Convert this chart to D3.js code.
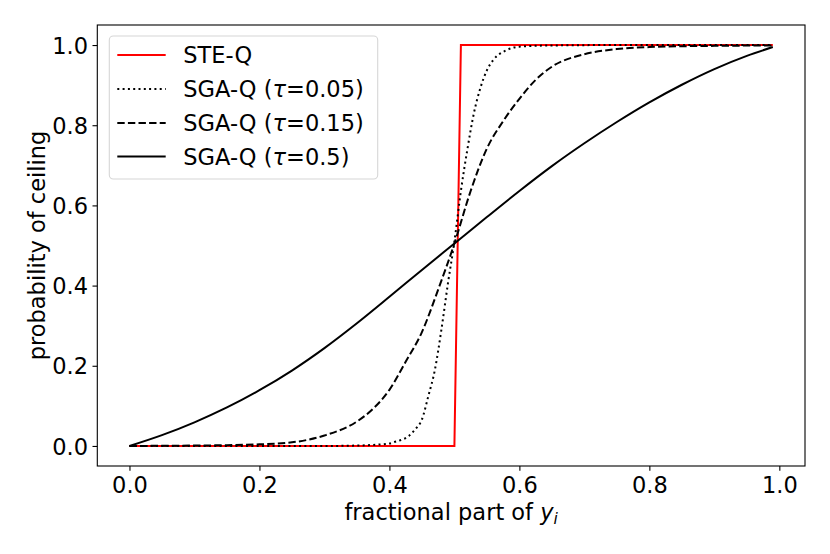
<!DOCTYPE html>
<html>
<head>
<meta charset="utf-8">
<script src="https://cdn.jsdelivr.net/npm/d3@7"></script>
<style>
  body { margin: 0; background: #fff; }
  text { font-family: "DejaVu Sans", sans-serif; fill: #000; }
</style>
</head>
<body>
<div class="chart"></div>
<script>
//-----------------------------------------
// data
//-----------------------------------------

// STE-Q: hard step
var steX = [0, 0.50, 0.51, 0.99];
var steY = [0, 0, 1, 1];

// SGA-Q (tau=0.05), dotted
var sga005X = [0, 0.30, 0.35, 0.40, 0.41, 0.42, 0.43, 0.44, 0.45, 0.46, 0.47, 0.48, 0.49, 0.50,
               0.51, 0.52, 0.53, 0.54, 0.55, 0.56, 0.58, 0.60, 0.65, 0.75, 0.99];
var sga005Y = [0, 0, 0.001, 0.006, 0.011, 0.016, 0.025, 0.042, 0.066, 0.125, 0.19, 0.29, 0.405, 0.51,
               0.636, 0.74, 0.83, 0.893, 0.937, 0.963, 0.987, 0.996, 0.999, 1, 1];

// SGA-Q (tau=0.15), dashed
var sga015X = [0, 0.10, 0.15, 0.20, 0.25, 0.30, 0.35, 0.375, 0.40, 0.425, 0.45, 0.475, 0.50,
               0.525, 0.55, 0.575, 0.60, 0.625, 0.65, 0.70, 0.75, 0.80, 0.85, 0.90, 0.99];
var sga015Y = [0, 0.001, 0.002, 0.004, 0.009, 0.026, 0.061, 0.093, 0.14, 0.21, 0.284, 0.39, 0.505,
               0.636, 0.742, 0.81, 0.866, 0.913, 0.946, 0.977, 0.99, 0.995, 0.997, 0.998, 0.999];

// SGA-Q (tau=0.5), solid
var sga05X = [0, 0.05, 0.10, 0.15, 0.20, 0.25, 0.30, 0.35, 0.40, 0.45, 0.50,
              0.55, 0.60, 0.65, 0.70, 0.75, 0.80, 0.85, 0.90, 0.95, 0.99];
var sga05Y = [0, 0.027, 0.059, 0.096, 0.139, 0.188, 0.244, 0.306, 0.372, 0.439, 0.505,
              0.571, 0.636, 0.698, 0.755, 0.808, 0.857, 0.901, 0.940, 0.973, 0.995];

var tickValues = [0, 0.2, 0.4, 0.6, 0.8, 1.0];
var legendNames = ["STE-Q", "SGA-Q (", "SGA-Q (", "SGA-Q ("];
var legendTaus = [null, "0.05", "0.15", "0.5"];

//-----------------------------------------
// svg + scales
//-----------------------------------------
var svgWidth = 830;
var svgHeight = 554;
var fontSize = 22.5;

var plot = { left: 97.3, right: 805, top: 25, bottom: 466 };

var svg = d3.select(".chart")
    .append("svg")
    .attr("width", svgWidth)
    .attr("height", svgHeight);

var xScale = d3.scaleLinear()
    .domain([-0.0495, 1.0395])
    .range([plot.left, plot.right]);

var yScale = d3.scaleLinear()
    .domain([-0.05, 1.05])
    .range([plot.bottom, plot.top]);

//-----------------------------------------
// axes
//-----------------------------------------
var xAxis = d3.axisBottom(xScale)
    .tickValues(tickValues)
    .tickFormat(d3.format(".1f"))
    .tickSizeInner(4.8)
    .tickSizeOuter(0)
    .tickPadding(5);

var yAxis = d3.axisLeft(yScale)
    .tickValues(tickValues)
    .tickFormat(d3.format(".1f"))
    .tickSizeInner(4.8)
    .tickSizeOuter(0)
    .tickPadding(4.5);

var gx = svg.append("g")
    .attr("transform", `translate(0, ${plot.bottom})`)
    .call(xAxis);

var gy = svg.append("g")
    .attr("transform", `translate(${plot.left}, 0)`)
    .call(yAxis);

[gx, gy].forEach(function (g) {
    g.select(".domain").remove();
    g.selectAll("line").attr("stroke", "#000").attr("stroke-width", 1.1);
    g.selectAll("text")
        .attr("font-family", "DejaVu Sans")
        .attr("font-size", fontSize)
        .attr("fill", "#000");
});
gx.selectAll("text").attr("dy", "0.78em");
gy.selectAll("text").attr("dy", "0.36em");

//-----------------------------------------
// lines
//-----------------------------------------
function series(xs, ys) {
    return xs.map(function (x, i) { return [x, ys[i]]; });
}

var smooth = d3.line()
    .x(function (d) { return xScale(d[0]); })
    .y(function (d) { return yScale(d[1]); })
    .curve(d3.curveMonotoneX);

var straight = d3.line()
    .x(function (d) { return xScale(d[0]); })
    .y(function (d) { return yScale(d[1]); });

var lines = [
    { data: series(steX, steY), color: "#ff0000", dash: null, gen: straight },
    { data: series(sga005X, sga005Y), color: "#000", dash: "2,3.3", gen: smooth },
    { data: series(sga015X, sga015Y), color: "#000", dash: "7.4,3.2", gen: smooth },
    { data: series(sga05X, sga05Y), color: "#000", dash: null, gen: smooth }
];

lines.forEach(function (l) {
    svg.append("path")
        .attr("d", l.gen(l.data))
        .attr("fill", "none")
        .attr("stroke", l.color)
        .attr("stroke-width", 2)
        .attr("stroke-dasharray", l.dash);
});

// frame
svg.append("rect")
    .attr("x", plot.left)
    .attr("y", plot.top)
    .attr("width", plot.right - plot.left)
    .attr("height", plot.bottom - plot.top)
    .attr("fill", "none")
    .attr("stroke", "#000")
    .attr("stroke-width", 1.1);

//-----------------------------------------
// axis labels
//-----------------------------------------
var xLabel = svg.append("text")
    .attr("x", (plot.left + plot.right) / 2)
    .attr("y", 519.5)
    .attr("text-anchor", "middle")
    .attr("font-size", fontSize);
xLabel.append("tspan").text("fractional part of ");
xLabel.append("tspan").attr("font-style", "italic").text("y");
xLabel.append("tspan").attr("font-style", "italic").attr("font-size", 15.5).attr("dy", 4).text("i");

svg.append("text")
    .attr("transform", `translate(44.5, ${(plot.top + plot.bottom) / 2}) rotate(-90)`)
    .attr("text-anchor", "middle")
    .attr("font-size", fontSize)
    .text("probability of ceiling");

//-----------------------------------------
// legend
//-----------------------------------------
var legend = svg.append("g");

legend.append("rect")
    .attr("x", 109.3)
    .attr("y", 36)
    .attr("width", 268.4)
    .attr("height", 143)
    .attr("rx", 4)
    .attr("fill", "#fff")
    .attr("fill-opacity", 0.8)
    .attr("stroke", "#d6d6d6")
    .attr("stroke-width", 1.1);

var rowY = [55, 89, 123, 156.5];

lines.forEach(function (l, i) {
    legend.append("line")
        .attr("x1", 117.3)
        .attr("x2", 165.7)
        .attr("y1", rowY[i])
        .attr("y2", rowY[i])
        .attr("stroke", l.color)
        .attr("stroke-width", 2)
        .attr("stroke-dasharray", l.dash);

    var t = legend.append("text")
        .attr("x", 183.3)
        .attr("y", rowY[i])
        .attr("dy", "0.36em")
        .attr("font-size", fontSize);
    t.append("tspan").text(legendNames[i]);
    if (legendTaus[i]) {
        t.append("tspan").attr("font-style", "italic").text("τ");
        t.append("tspan").text("=" + legendTaus[i] + ")");
    }
});
</script>
</body>
</html>
